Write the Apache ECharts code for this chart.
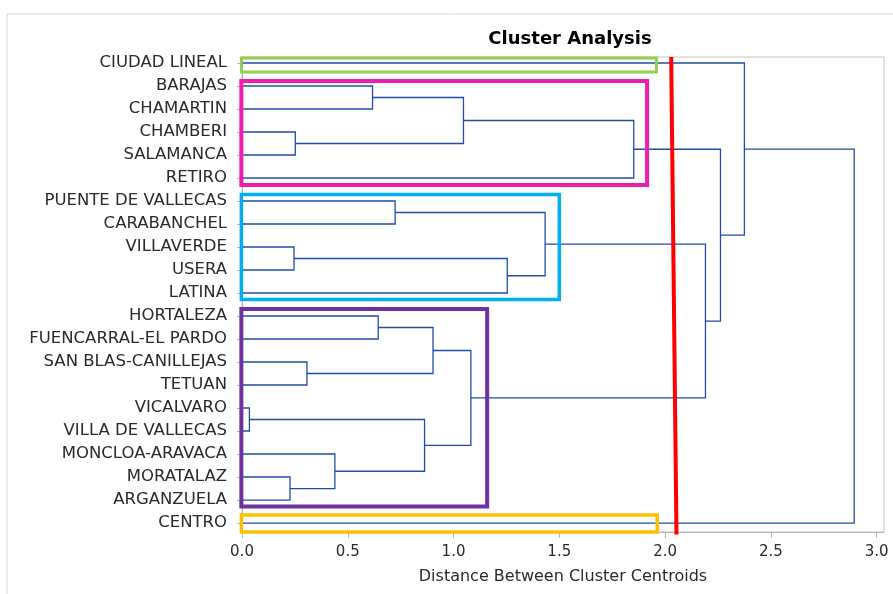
<!DOCTYPE html>
<html>
<head>
<meta charset="utf-8">
<script src="https://cdn.jsdelivr.net/npm/echarts@6/dist/echarts.min.js"></script>
<style>
html,body{margin:0;padding:0;background:#fff;}
#chart{width:893px;height:594px;}
</style>
</head>
<body>
<div id="chart"></div>
<script>
// Leaves, top to bottom
const leaves = ['CIUDAD LINEAL','BARAJAS','CHAMARTIN','CHAMBERI','SALAMANCA','RETIRO',
  'PUENTE DE VALLECAS','CARABANCHEL','VILLAVERDE','USERA','LATINA','HORTALEZA',
  'FUENCARRAL-EL PARDO','SAN BLAS-CANILLEJAS','TETUAN','VICALVARO','VILLA DE VALLECAS',
  'MONCLOA-ARAVACA','MORATALAZ','ARGANZUELA','CENTRO'];

// Merge history: [new cluster, child A, child B]
const mergeNames = [
  ['CL1','VICALVARO','VILLA DE VALLECAS'],
  ['CL2','MORATALAZ','ARGANZUELA'],
  ['CL3','VILLAVERDE','USERA'],
  ['CL4','CHAMBERI','SALAMANCA'],
  ['CL5','SAN BLAS-CANILLEJAS','TETUAN'],
  ['CL6','MONCLOA-ARAVACA','CL2'],
  ['CL7','BARAJAS','CHAMARTIN'],
  ['CL8','HORTALEZA','FUENCARRAL-EL PARDO'],
  ['CL9','PUENTE DE VALLECAS','CARABANCHEL'],
  ['CL10','CL1','CL6'],
  ['CL11','CL8','CL5'],
  ['CL12','CL7','CL4'],
  ['CL13','CL11','CL10'],
  ['CL14','CL3','LATINA'],
  ['CL15','CL9','CL14'],
  ['CL16','CL12','RETIRO'],
  ['CL17','CL15','CL13'],
  ['CL18','CL16','CL17'],
  ['CL19','CIUDAD LINEAL','CL18'],
  ['CL20','CL19','CENTRO']
];
// Distance between cluster centroids at each merge
const mergeHeights = [0.035,0.227,0.246,0.252,0.307,0.439,0.617,0.644,0.724,0.863,
  0.903,1.047,1.082,1.254,1.433,1.852,2.191,2.262,2.375,2.894];

const xTicks = [0,0.5,1.0,1.5,2.0,2.5,3.0];

// Cluster boxes in data space: [x0, x1, y0, y1]
const boxRanges = [
  [-0.003,1.959,-0.22,0.39],
  [-0.003,1.915,0.78,5.3],
  [-0.003,1.50,5.72,10.28],
  [-0.003,1.159,10.70,19.28],
  [-0.003,1.963,19.65,20.39]
];
// Cut line: [x top, y top, x bottom, y bottom]
const cutLine = [2.029,-0.26,2.054,20.5];

const boxColors = ['#92d050','#ee1cb0','#00b0f0','#7030a0','#ffc000'];
const boxWidths = [3,4,3.5,4,3.5];

// build node positions
const pos = {};
leaves.forEach((n,i)=>{pos[n]=[0,i];});
const linkData = [];
mergeNames.forEach((m,i)=>{
  const a = pos[m[1]], b = pos[m[2]], h = mergeHeights[i];
  linkData.push({coords:[[a[0],a[1]],[h,a[1]],[h,b[1]],[b[0],b[1]]]});
  pos[m[0]] = [h,(a[1]+b[1])/2];
});

const chart = echarts.init(document.getElementById('chart'));
const FONT = 'DejaVu Sans';
chart.setOption({
  animation:false,
  backgroundColor:'#fff',
  title:{
    text:'Cluster Analysis',
    left:565, top:25, textAlign:'center',
    textStyle:{fontFamily:FONT,fontSize:18,fontWeight:'bold',color:'#000'}
  },
  graphic:[{type:'rect',shape:{x:7,y:14,width:920,height:620},
    style:{fill:'none',stroke:'#d4d4d4',lineWidth:1},silent:true}],
  grid:{left:242,right:9,top:57,bottom:62,show:true,borderColor:'#c4c4c4',borderWidth:1,containLabel:false},
  xAxis:{
    type:'value',min:0,max:3.035,
    name:'Distance Between Cluster Centroids',nameLocation:'middle',nameGap:37,
    nameTextStyle:{fontFamily:FONT,fontSize:16,color:'#2a2a2a'},
    axisLine:{show:true,onZero:false,lineStyle:{color:'#b4b4b4'}},
    axisTick:{show:true,length:6,lineStyle:{color:'#b4b4b4'},customValues:xTicks},
    axisLabel:{fontFamily:FONT,fontSize:15,color:'#2a2a2a',margin:13,customValues:xTicks,
      formatter:v=>Number(v).toFixed(1)},
    splitLine:{show:false}
  },
  yAxis:{
    type:'value',inverse:true,min:-0.26,max:20.39,
    axisLine:{show:true,onZero:false,lineStyle:{color:'#b4b4b4'}},
    axisTick:{show:true,length:5,lineStyle:{color:'#b4b4b4'},customValues:leaves.map((n,i)=>i)},
    axisLabel:{fontFamily:FONT,fontSize:16.5,color:'#2a2a2a',margin:15,
      customValues:leaves.map((n,i)=>i),formatter:v=>leaves[Math.round(v)]},
    splitLine:{show:false}
  },
  series:[
    {
      type:'lines',coordinateSystem:'cartesian2d',polyline:true,silent:true,
      lineStyle:{color:'#1f4ea8',width:1.3,opacity:1},
      data:linkData,z:3
    },
    {
      type:'custom',coordinateSystem:'cartesian2d',clip:false,silent:true,z:4,
      data:boxRanges.map((b,i)=>[b[0],b[2],i]),
      renderItem:(params,api)=>{
        const b = boxRanges[params.dataIndex];
        const p0 = api.coord([b[0],b[2]]), p1 = api.coord([b[1],b[3]]);
        return {type:'rect',shape:{x:p0[0],y:p0[1],width:p1[0]-p0[0],height:p1[1]-p0[1]},
          style:{fill:'none',stroke:boxColors[params.dataIndex],lineWidth:boxWidths[params.dataIndex]}};
      }
    },
    {
      type:'custom',coordinateSystem:'cartesian2d',clip:false,silent:true,z:5,
      data:[[cutLine[0],cutLine[1]]],
      renderItem:(params,api)=>{
        const p0 = api.coord([cutLine[0],cutLine[1]]), p1 = api.coord([cutLine[2],cutLine[3]]);
        return {type:'line',shape:{x1:p0[0],y1:p0[1],x2:p1[0],y2:p1[1]},
          style:{stroke:'#ff0000',lineWidth:4}};
      }
    }
  ]
});
</script>
</body>
</html>
